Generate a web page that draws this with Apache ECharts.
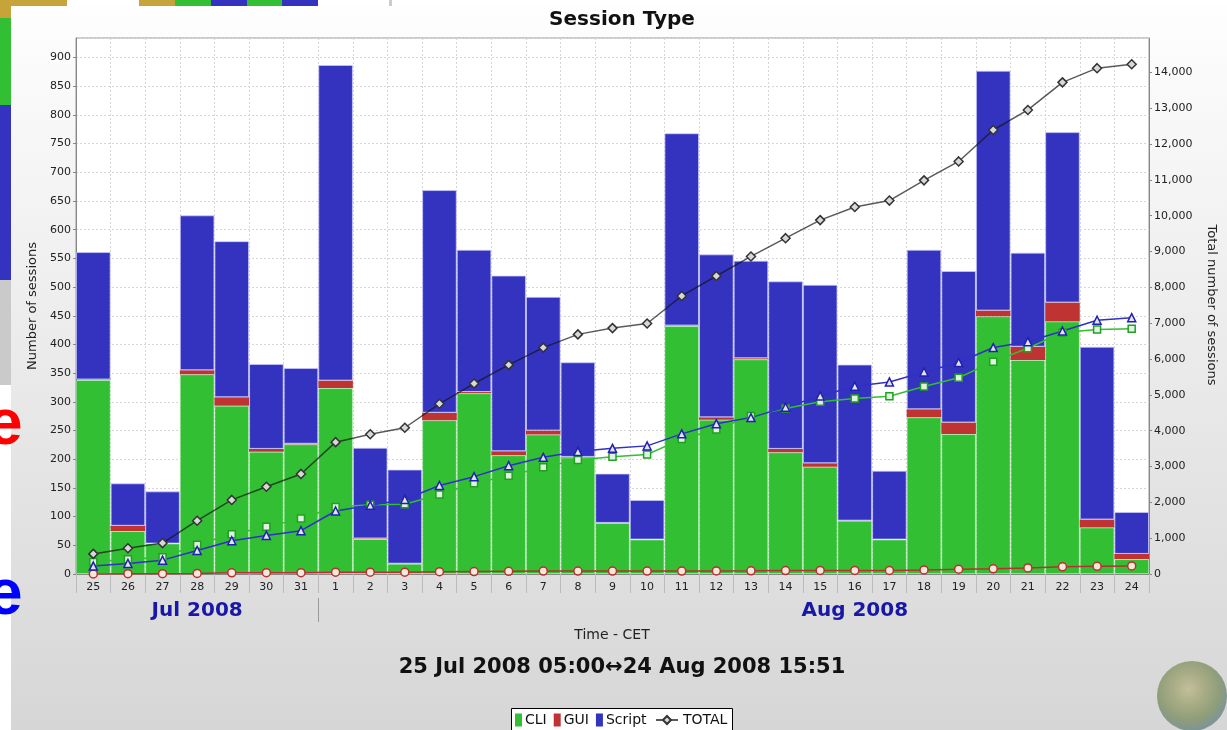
<!DOCTYPE html>
<html><head><meta charset="utf-8">
<script src="https://cdn.jsdelivr.net/npm/echarts@6/dist/echarts.min.js"></script>
<style>
html,body{margin:0;padding:0;background:#fff;}
#wrap{position:relative;width:1227px;height:730px;overflow:hidden;background:#fff;}
#panel{position:absolute;left:11px;top:6px;width:1216px;height:724px;background:linear-gradient(#fefefe,#d6d6d6);}
.b{position:absolute;}
#globe{position:absolute;left:1157px;top:661px;width:70px;height:70px;border-radius:50%;
 background:radial-gradient(circle at 45% 40%, #bdb98a 0%, #9aa070 30%, #7c8f62 55%, #5d7f98 82%, #8fa0b2 100%);opacity:0.8;}
#chart{position:absolute;left:0;top:0;width:1227px;height:730px;}
</style></head>
<body><div id="wrap">
<div id="panel"></div>
<div class="b" style="left:0;top:0;width:67px;height:6px;background:#c6a43a"></div>
<div class="b" style="left:0;top:0;width:11px;height:18px;background:#c6a43a"></div>
<div class="b" style="left:0;top:18px;width:11px;height:87px;background:#33bf33"></div>
<div class="b" style="left:0;top:105px;width:11px;height:175px;background:#3333c0"></div>
<div class="b" style="left:0;top:280px;width:11px;height:105px;background:#cacaca"></div>
<div class="b" style="left:139px;top:0;width:36px;height:6px;background:#c6a43a"></div>
<div class="b" style="left:175px;top:0;width:36px;height:6px;background:#33bf33"></div>
<div class="b" style="left:211px;top:0;width:36px;height:6px;background:#3333c0"></div>
<div class="b" style="left:247px;top:0;width:35px;height:6px;background:#33bf33"></div>
<div class="b" style="left:282px;top:0;width:36px;height:6px;background:#3333c0"></div>
<div class="b" style="left:389px;top:0;width:3px;height:6px;background:#cccccc"></div>
<div id="globe"></div>
<div id="chart"></div>
</div>
<script>
// ---- data ----
const days = ['25','26','27','28','29','30','31','1','2','3','4','5','6','7','8','9','10','11','12','13','14','15','16','17','18','19','20','21','22','23','24'];
const monthNames = ['Jul 2008', 'Aug 2008'];
const monthCenterIdx = [3, 22];
const monthBoundaryIdx = 7;
const cli    = [338,75,53,348,293,213,226,324,61,18,268,315,207,243,203,89,60,432,269,374,212,187,93,60,273,244,449,373,440,81,26];
const gui    = [1,9,0,7,15,5,1,13,1,0,13,2,7,7,1,0,0,1,4,2,6,6,0,0,14,20,10,23,33,14,9];
const script = [222,74,91,270,272,148,132,550,158,164,388,248,306,233,165,86,69,335,284,170,292,311,272,120,278,264,418,164,297,301,73];
const cumCli    = [338,413,466,814,1107,1320,1546,1870,1931,1949,2217,2532,2739,2982,3185,3274,3334,3766,4035,4409,4621,4808,4901,4961,5234,5478,5927,6300,6740,6821,6847];
const cumGui    = [1,10,10,17,32,37,38,51,52,52,65,67,74,81,82,82,82,83,87,89,95,101,101,101,115,135,145,168,201,215,224];
const cumScript = [222,296,387,657,929,1077,1209,1759,1917,2081,2469,2717,3023,3256,3421,3507,3576,3911,4195,4365,4657,4968,5240,5360,5638,5902,6320,6484,6781,7082,7155];
const cumTotal  = [561,719,863,1488,2068,2434,2793,3680,3900,4082,4751,5316,5836,6319,6688,6863,6992,7760,8317,8863,9373,9877,10242,10422,10987,11515,12392,12952,13722,14118,14226];

const FONT = "'DejaVu Sans', sans-serif";
const chart = echarts.init(document.getElementById('chart'), null, {renderer:'canvas'});
const gridLine = {color:'#d6d6d6', type:[2,2], width:1};
const option = {
  animation:false,
  backgroundColor:'transparent',
  textStyle:{fontFamily:FONT},
  grid:{left:76, right:78, top:38, bottom:156, show:true, backgroundColor:'#ffffff', borderColor:'#999', borderWidth:1},
  legend:[
    {data:['CLI','GUI','Script'], left:515, top:713, icon:'rect', itemWidth:7, itemHeight:13, itemGap:7,
     padding:0, selectedMode:false, itemStyle:{borderWidth:0},
     textStyle:{fontSize:14, color:'#111', fontFamily:FONT, padding:[0,0,0,-2]}},
    {data:['TOTAL'], left:655, top:713, itemWidth:22, itemHeight:10, padding:0, selectedMode:false,
     textStyle:{fontSize:14, color:'#111', fontFamily:FONT}}
  ],
  xAxis:[
    {type:'category', data:days, boundaryGap:true,
     axisLine:{lineStyle:{color:'#888'}},
     axisTick:{show:true, length:19, lineStyle:{color:'#bbb'}},
     axisLabel:{color:'#222', fontSize:11, margin:8, interval:0, fontFamily:FONT},
     splitLine:{show:true, lineStyle:gridLine}},
    {type:'category', data:days, boundaryGap:true, position:'bottom', offset:24,
     axisLine:{show:false}, axisTick:{show:false},
     axisLabel:{interval:0, margin:3, color:'#1818a8', fontSize:20, fontWeight:'bold', fontFamily:FONT,
       formatter:(v,i)=>{const k=monthCenterIdx.indexOf(i); return k>=0?monthNames[k]:'';}},
     splitLine:{show:false}}
  ],
  yAxis:[
    {type:'value', min:0, max:934, interval:50, position:'left',
     axisLine:{show:true, lineStyle:{color:'#888'}},
     axisTick:{show:true, length:3, lineStyle:{color:'#888'}},
     axisLabel:{color:'#222', fontSize:11, margin:5, showMaxLabel:false, fontFamily:FONT},
     splitLine:{show:true, lineStyle:gridLine}},
    {type:'value', min:0, max:14960, interval:1000, position:'right',
     axisLine:{show:true, lineStyle:{color:'#888'}},
     axisTick:{show:true, length:3, lineStyle:{color:'#888'}},
     axisLabel:{color:'#222', fontSize:11, margin:5, showMaxLabel:false, fontFamily:FONT,
       formatter:(v)=>v.toLocaleString('en-US')},
     splitLine:{show:false}}
  ],
  series:[
    {name:'CLI', type:'bar', stack:'s', data:cli, barCategoryGap:'0%',
     itemStyle:{color:'#33bf33', borderColor:'rgba(190,240,190,0.45)', borderWidth:1}},
    {name:'GUI', type:'bar', stack:'s', data:gui, barCategoryGap:'0%',
     itemStyle:{color:'#c03333'}},
    {name:'Script', type:'bar', stack:'s', data:script, barCategoryGap:'0%',
     itemStyle:{color:'#3333c0', borderColor:'rgba(205,205,255,0.7)', borderWidth:1}},
    {name:'GUI cumulative', type:'line', yAxisIndex:1, data:cumGui, symbol:'circle', symbolSize:8,
     lineStyle:{color:'#b83030', width:1.5}, itemStyle:{color:'#f2e8dc', borderColor:'#b83030', borderWidth:1.5}},
    {name:'CLI cumulative', type:'line', yAxisIndex:1, data:cumCli, symbol:'rect', symbolSize:7,
     lineStyle:{color:'#30c030', width:1.5}, itemStyle:{color:'#e2f2e2', borderColor:'#20a020', borderWidth:1.5}},
    {name:'Script cumulative', type:'line', yAxisIndex:1, data:cumScript, symbol:'triangle', symbolSize:8,
     lineStyle:{color:'#3030c8', width:1.5}, itemStyle:{color:'#e4e4f4', borderColor:'#2020b0', borderWidth:1.5}},
    {name:'TOTAL', type:'line', yAxisIndex:1, data:cumTotal, symbol:'diamond', symbolSize:9,
     lineStyle:{color:'rgba(20,20,20,0.7)', width:1.5}, itemStyle:{color:'#d8d8d8', borderColor:'#333', borderWidth:1.5}}
  ],
  graphic:[
    {type:'text', x:622, y:20, style:{text:'Session Type', fill:'#111', font:"bold 20px 'DejaVu Sans'", align:'center', verticalAlign:'middle'}},
    {type:'text', x:33, y:306, rotation:Math.PI/2, style:{text:'Number of sessions', fill:'#222', font:"13px 'DejaVu Sans'", align:'center', verticalAlign:'middle'}},
    {type:'text', x:1211, y:305, rotation:-Math.PI/2, style:{text:'Total number of sessions', fill:'#222', font:"13px 'DejaVu Sans'", align:'center', verticalAlign:'middle'}},
    {type:'text', x:612, y:635, style:{text:'Time - CET', fill:'#222', font:"14px 'DejaVu Sans'", align:'center', verticalAlign:'middle'}},
    {type:'text', x:622, y:668, style:{text:'25 Jul 2008 05:00\u219424 Aug 2008 15:51', fill:'#111', font:"bold 21px 'DejaVu Sans'", align:'center', verticalAlign:'middle'}},
    {type:'rect', z:1, shape:{x:511.5, y:708.5, width:221, height:30}, style:{fill:'#ffffff', stroke:'#000', lineWidth:1}},
    {type:'text', x:-13, y:426, style:{text:'e', fill:'#ff0000', font:"bold 64px 'Liberation Sans'", align:'left', verticalAlign:'middle'}},
    {type:'text', x:-13, y:596, style:{text:'e', fill:'#0000ff', font:"bold 64px 'Liberation Sans'", align:'left', verticalAlign:'middle'}}
  ]
};
chart.setOption(option);
// month separator on the period band, placed from the category axis scale
const xa = chart.convertToPixel({xAxisIndex:0}, days[monthBoundaryIdx - 1]);
const xb = chart.convertToPixel({xAxisIndex:0}, days[monthBoundaryIdx]);
const sepX = Math.round((xa + xb) / 2) + 0.5;
chart.setOption({graphic:{elements:[
  {id:'monthSep', type:'line', shape:{x1:sepX, y1:598, x2:sepX, y2:622}, style:{stroke:'#999', lineWidth:1}}
]}});
</script>
</body></html>
